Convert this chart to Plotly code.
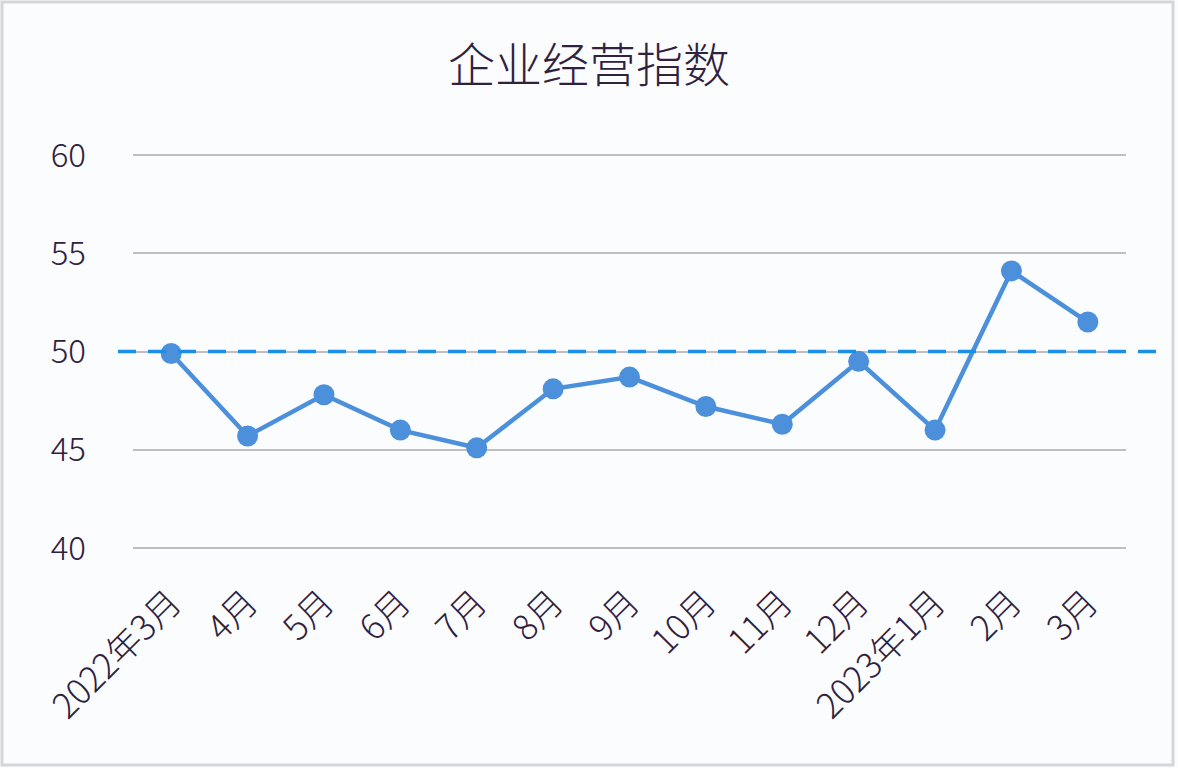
import plotly.graph_objects as go

categories = ["2022年3月", "4月", "5月", "6月", "7月", "8月", "9月", "10月",
              "11月", "12月", "2023年1月", "2月", "3月"]
index_values = [49.9, 45.7, 47.8, 46.0, 45.1, 48.1, 48.7, 47.2, 46.3, 49.5, 46.0, 54.1, 51.5]
reference_level = 50
y_ticks = [40, 45, 50, 55, 60]

TEXT = "#30213F"
FONT = "Noto Sans CJK SC"

W, H = 1178, 768
# plot area in pixels (y range padded slightly so edge gridlines render)
Y0, Y1 = 39.9, 60.1
ppu = (548 - 155) / 20.0
L, R = 133, 52
T = 155 - (Y1 - 60) * ppu
B = H - (548 + (40 - Y0) * ppu)
pw, ph = W - L - R, H - T - B
def px(x): return (x - L) / pw
def py(y): return (H - B - y) / ph

fig = go.Figure()
fig.add_trace(go.Scatter(
    x=categories, y=index_values, mode="lines+markers",
    line=dict(color="#4C90DC", width=4.5),
    marker=dict(color="#4C90DC", size=21),
    showlegend=False, hoverinfo="x+y",
))

# reference dashed line at 50 (extends slightly beyond plot area)
fig.add_shape(type="line", xref="paper", yref="y",
              x0=px(118), x1=px(1158), y0=reference_level, y1=reference_level,
              line=dict(color="#1A8FE3", width=3.5, dash="18px,12px"), layer="above")

# outer light frame
fig.add_shape(type="rect", xref="paper", yref="paper",
              x0=px(2), x1=px(1173), y0=py(2), y1=py(765),
              line=dict(color="#D6D6DA", width=3), fillcolor="rgba(0,0,0,0)", layer="below")

fig.update_layout(
    width=W, height=H,
    margin=dict(l=L, r=R, t=T, b=B, autoexpand=False),
    paper_bgcolor="#FBFCFE", plot_bgcolor="#FBFCFE",
    font=dict(family=FONT, color=TEXT, size=32, weight=300),
    title=dict(text="企业经营指数", x=0.5, xref="container", xanchor="center",
               y=1 - 66 / H, yref="container", yanchor="middle",
               font=dict(family=FONT, size=47, color=TEXT, weight=300)),
    xaxis=dict(type="category", range=[-0.5, len(categories) - 0.5], tickangle=-45,
               showgrid=False, showline=False, zeroline=False, ticks="",
               ticklabelstandoff=24, automargin=False,
               tickfont=dict(size=35, color=TEXT, family=FONT, weight=300)),
    yaxis=dict(range=[Y0, Y1], tickvals=y_ticks, showgrid=True, gridcolor="#BDBDC2",
               gridwidth=1.5, zeroline=False, showline=False, ticks="",
               ticklabelstandoff=46, automargin=False,
               tickfont=dict(size=33, color=TEXT, family=FONT, weight=300)),
)

fig.write_html("out.html", config={"displayModeBar": False},
               post_script="document.body.style.margin='0';document.body.style.padding='0';")
